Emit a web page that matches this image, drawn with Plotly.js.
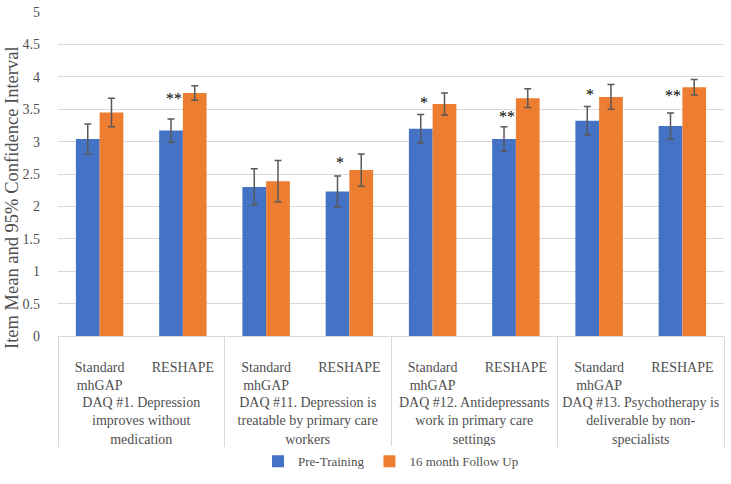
<!DOCTYPE html>
<html>
<head>
<meta charset="utf-8">
<script src="https://cdn.plot.ly/plotly-3.0.1.min.js"></script>
<style>html,body{margin:0;padding:0;background:#fff;}#chart{width:731px;height:484px;}</style>
</head>
<body>
<div id="chart"></div>
<script>
// ---- data ----
const groups = [
  "DAQ #1. Depression<br>improves without<br>medication",
  "DAQ #1. Depression<br>improves without<br>medication",
  "DAQ #11. Depression is<br>treatable by primary care<br>workers",
  "DAQ #11. Depression is<br>treatable by primary care<br>workers",
  "DAQ #12. Antidepressants<br>work in primary care<br>settings",
  "DAQ #12. Antidepressants<br>work in primary care<br>settings",
  "DAQ #13. Psychotherapy is<br>deliverable by non-<br>specialists",
  "DAQ #13. Psychotherapy is<br>deliverable by non-<br>specialists"
];
const programs = ["Standard<br>mhGAP", "RESHAPE", "Standard<br>mhGAP", "RESHAPE", "Standard<br>mhGAP", "RESHAPE", "Standard<br>mhGAP", "RESHAPE"];
const preTraining = [3.04, 3.17, 2.30, 2.23, 3.20, 3.04, 3.32, 3.24];
const preCI = [0.23, 0.18, 0.28, 0.24, 0.22, 0.19, 0.22, 0.20];
const followUp = [3.45, 3.75, 2.39, 2.56, 3.58, 3.67, 3.69, 3.84];
const followCI = [0.22, 0.11, 0.32, 0.25, 0.17, 0.145, 0.19, 0.12];
const sigLabels = ["", "**", "", "*", "*", "**", "*", "**"];
const sigY = [0, 3.66, 0, 2.68, 3.60, 3.39, 3.72, 3.71];
const seriesNames = ["Pre-Training", "16 month Follow Up"];
const yTicks = [0, 0.5, 1, 1.5, 2, 2.5, 3, 3.5, 4, 4.5, 5];
const yTitle = "Item Mean and 95% Confidence Interval";

const FONT = "'Liberation Serif', 'DejaVu Serif', serif";
const TXT = '#505050';
const errStyle = {type: 'data', visible: true, color: '#595959', thickness: 1.5, width: 3.5};

// a leading empty line pushes both label rows down, as in the reference
const subLabels = programs.map(p => '<br>' + p);
const groupLabels = groups.map(g => '<br>' + g);

const traces = [
  {
    type: 'bar', name: seriesNames[0], x: [groupLabels, subLabels], y: preTraining,
    marker: {color: '#4472C4'},
    error_y: Object.assign({array: preCI}, errStyle)
  },
  {
    type: 'bar', name: seriesNames[1], x: [groupLabels, subLabels], y: followUp,
    marker: {color: '#ED7D31'},
    error_y: Object.assign({array: followCI}, errStyle)
  }
];

const annotations = [];
sigLabels.forEach((s, i) => {
  if (!s) return;
  annotations.push({
    x: i, y: sigY[i], xref: 'x', yref: 'y', text: s, showarrow: false,
    xshift: -9, font: {family: FONT, size: 16, color: '#000'}
  });
});
annotations.push({
  xref: 'paper', yref: 'paper', x: 0, y: 0.5, xanchor: 'center', yanchor: 'middle',
  xshift: -46, yshift: -24, textangle: -90, showarrow: false, text: yTitle,
  font: {family: FONT, size: 18.5, color: TXT}
});

const layout = {
  width: 731, height: 484,
  margin: {l: 58, r: 7, t: 12, b: 146},
  paper_bgcolor: '#fff', plot_bgcolor: '#fff',
  font: {family: FONT, color: TXT, size: 14},
  barmode: 'group', bargap: 0.43, bargroupgap: 0,
  showlegend: true,
  legend: {orientation: 'h', x: 0.5, xanchor: 'center', y: -0.387, yanchor: 'middle',
           font: {family: FONT, size: 13, color: TXT}, tracegroupgap: 0, itemwidth: 30},
  xaxis: {
    type: 'multicategory', automargin: false,
    showline: true, linecolor: '#d9d9d9', linewidth: 1,
    showdividers: true, dividercolor: '#d9d9d9', dividerwidth: 1,
    tickfont: {family: FONT, size: 14, color: TXT},
    ticks: '', showgrid: false
  },
  yaxis: {
    range: [0, 5], tickvals: yTicks, ticktext: yTicks.map(String), automargin: false,
    showgrid: true, gridcolor: '#d9d9d9', gridwidth: 1,
    zeroline: false, showline: false, ticks: '',
    tickfont: {family: FONT, size: 14, color: TXT}, ticklabelstandoff: 17
  },
  annotations: annotations
};

Plotly.newPlot('chart', traces, layout, {displayModeBar: false, staticPlot: true});
</script>
</body>
</html>
